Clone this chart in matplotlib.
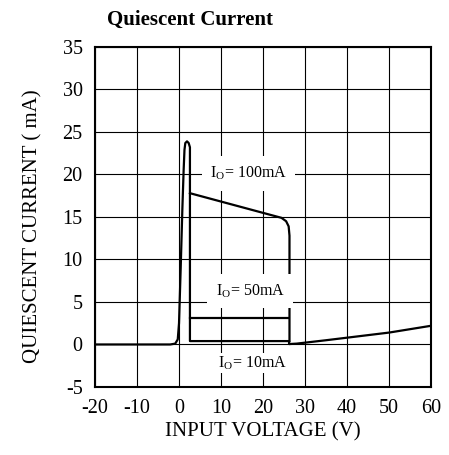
import matplotlib
matplotlib.use("Agg")
import matplotlib.pyplot as plt

plt.rcParams['font.family'] = ['Liberation Serif', 'DejaVu Serif']
plt.rcParams['mathtext.fontset'] = 'custom'
plt.rcParams['mathtext.rm'] = 'Liberation Serif'
plt.rcParams['axes.unicode_minus'] = False

# main trace (turn-on spike, 10mA level, and tail above dropout)
v_main = [-20, -2.1, -0.9, -0.3, 0.0, 0.4, 0.8, 1.1, 1.3, 1.5, 1.9, 2.3, 2.6, 2.6, 2.6, 26.2, 26.2, 28, 35, 40, 50, 60]
i_main = [0, 0, 0.1, 0.6, 2.5, 9, 16, 20.5, 22.9, 23.7, 23.9, 23.7, 23.2, 20, 0.4, 0.4, 0.05, 0.1, 0.5, 0.8, 1.4, 2.2]

# Io = 50mA
v_50 = [2.6, 26.0]
i_50 = [3.1, 3.1]

# Io = 100mA
v_100 = [2.6, 24.4, 25.5, 26.1, 26.3, 26.3]
i_100 = [17.8, 14.9, 14.5, 13.9, 12.8, 0.4]

labels = [r'I$_\mathrm{O}$= 100mA', r'I$_\mathrm{O}$= 50mA', r'I$_\mathrm{O}$= 10mA']
label_x = [16.5, 16.9, 17.4]
label_y = [20.1, 6.3, -2.2]

fig = plt.figure(figsize=(4.49, 4.55), dpi=100)
ax = fig.add_axes([0.2116, 0.1495, 0.7484, 0.7472])

ax.plot(v_main, i_main, color='black', lw=1.6, zorder=3)
ax.plot(v_50, i_50, color='black', lw=1.6, zorder=3)
ax.plot(v_100, i_100, color='black', lw=1.6, zorder=3)

for t, x, y in zip(labels, label_x, label_y):
    ax.text(x, y, t, fontsize=11.5, ha='center', va='center', zorder=4,
            bbox=dict(facecolor='white', edgecolor='none', pad=6 if y > 0 else 1))

ax.set_xlim(-20, 60)
ax.set_ylim(-5, 35)
ax.set_xticks(range(-20, 61, 10))
ax.set_yticks(range(-5, 36, 5))
ax.grid(True, color='black', lw=0.8)
ax.tick_params(length=0, labelsize=14.5)
ax.tick_params(axis='y', pad=9)
ax.tick_params(axis='x', pad=8.5)
for s in ax.spines.values():
    s.set_linewidth(1.5)

ax.set_xlabel('INPUT VOLTAGE (V)', fontsize=15)
ax.set_ylabel('QUIESCENT CURRENT ( mA)', fontsize=15)
ax.xaxis.set_label_coords(0.5, -0.104)
ax.yaxis.set_label_coords(-0.157, 0.472)
fig.text(0.238, 0.956, 'Quiescent Current', fontsize=15, fontweight='bold', ha='left', va='center')

fig.savefig('out.png', dpi=100)
